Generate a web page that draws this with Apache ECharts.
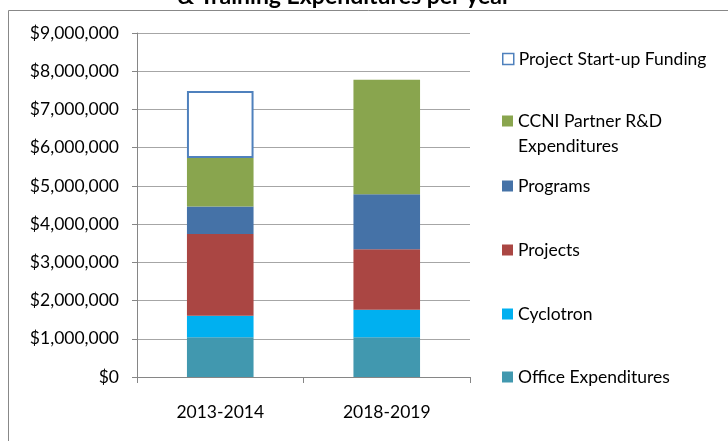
<!DOCTYPE html>
<html>
<head>
<meta charset="utf-8">
<script src="https://cdn.jsdelivr.net/npm/echarts@6/dist/echarts.min.js"></script>
<style>
  html, body { margin: 0; padding: 0; background: #fff; }
  #chart { width: 728px; height: 441px; }
</style>
</head>
<body>
<div id="chart"></div>
<script>
var categories = ['2013-2014', '2018-2019'];

var office = [1040000, 1040000];
var cyclotron = [560000, 720000];
var projects = [2140000, 1580000];
var programs = [720000, 1440000];
var ccni = [1270000, 3000000];
var startup = [1750000, null];

var names = ['Office Expenditures', 'Cyclotron', 'Projects', 'Programs',
  'CCNI Partner R&D Expenditures', 'Project Start-up Funding'];
var colors = ['#4198AF', '#00B0F0', '#AA4643', '#4572A7', '#89A54E', '#ffffff'];
var values = [office, cyclotron, projects, programs, ccni, startup];

// legend rows, top to bottom (icon centre y)
var legendRows = [
  ['Project Start-up Funding', 56],
  ['CCNI Partner R&D Expenditures', 118],
  ['Programs', 183],
  ['Projects', 247],
  ['Cyclotron', 311],
  ['Office Expenditures', 374]
];

var font = 'Lato, "Open Sans", sans-serif';
var fs = 17.5;

var chartDom = document.getElementById('chart');
var myChart = echarts.init(chartDom);

var series = names.map(function (n, i) {
  var s = {
    name: n,
    type: 'bar',
    stack: 'total',
    data: values[i],
    barWidth: '40%',
    itemStyle: { color: colors[i] }
  };
  if (n === 'Project Start-up Funding') {
    s.itemStyle = { color: '#ffffff', borderColor: '#4F81BD', borderWidth: 2 };
  }
  return s;
});

var legends = legendRows.map(function (r) {
  var lg = {
    data: [r[0]],
    left: 497,
    top: r[1] - 6 - 5,
    itemWidth: 11,
    itemHeight: 11,
    icon: 'rect',
    selectedMode: false,
    textStyle: { fontFamily: font, fontSize: fs, color: '#000' }
  };
  if (r[0] === 'CCNI Partner R&D Expenditures') {
    // first line only; the second line is drawn below as graphic text
    lg.formatter = function () { return 'CCNI Partner R&D'; };
  }
  if (r[0] === 'Project Start-up Funding') {
    lg.itemStyle = { color: '#ffffff', borderColor: '#4F81BD', borderWidth: 1.5 };
  }
  return lg;
});

var option = {
  animation: false,
  backgroundColor: '#ffffff',
  graphic: [
    {
      type: 'rect',
      shape: { x: 8.5, y: 10.5, width: 760, height: 460 },
      style: { fill: null, stroke: '#888888', lineWidth: 1 },
      silent: true
    },
    {
      type: 'text',
      x: 344,
      y: -15,
      style: {
        text: '& Training Expenditures per year',
        font: 'bold 23px ' + font,
        fill: '#000',
        textAlign: 'center',
        textVerticalAlign: 'top'
      }
    },
    {
      type: 'text',
      x: 518,
      y: 146,
      style: {
        text: 'Expenditures',
        font: fs + 'px ' + font,
        fill: '#000',
        textAlign: 'left',
        textVerticalAlign: 'middle'
      }
    }
  ],
  legend: legends,
  grid: { left: 137, right: 258, top: 33, bottom: 64 },
  xAxis: {
    type: 'category',
    data: categories,
    axisLine: { lineStyle: { color: '#868686', width: 1 } },
    axisTick: { show: true, length: 6, lineStyle: { color: '#868686' } },
    axisLabel: { fontFamily: font, fontSize: fs, color: '#000', margin: 26 }
  },
  yAxis: {
    type: 'value',
    min: 0,
    max: 9000000,
    interval: 1000000,
    axisLine: { show: true, lineStyle: { color: '#868686', width: 1 } },
    axisTick: { show: true, length: 5, lineStyle: { color: '#868686' } },
    axisLabel: {
      fontFamily: font, fontSize: fs, color: '#000', margin: 18,
      formatter: function (v) { return '$' + v.toLocaleString('en-US'); }
    },
    splitLine: { lineStyle: { color: '#a6a6a6', width: 1 } }
  },
  series: series
};

myChart.setOption(option);
window.addEventListener('resize', () => myChart.resize());
</script>
</body>
</html>
